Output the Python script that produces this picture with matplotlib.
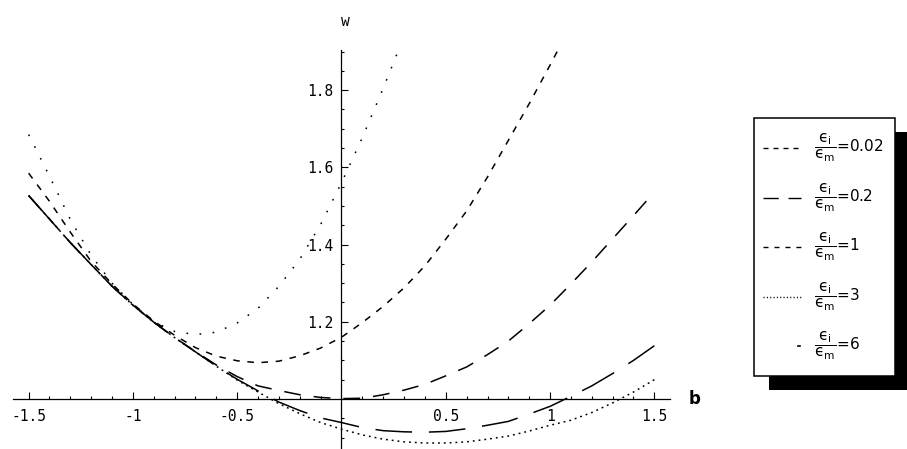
import matplotlib.pyplot as plt
from matplotlib.patches import Rectangle
from matplotlib.ticker import FixedLocator, MultipleLocator

# shared b samples for the three lower curves
b_low = [-1.5, -1.4, -1.3, -1.2, -1.1, -1.0, -0.9, -0.8, -0.7, -0.6, -0.5,
         -0.4, -0.3, -0.2, -0.1, 0.0, 0.1, 0.2, 0.3, 0.4, 0.5,
         0.6, 0.7, 0.8, 0.9, 1.0, 1.1, 1.2, 1.3, 1.4, 1.5]

# eps_i/eps_m = 0.2
w_02 = [1.527, 1.466, 1.405, 1.348, 1.292, 1.243, 1.199, 1.159, 1.122, 1.085, 1.051,
        1.021, 0.992, 0.970, 0.951, 0.939, 0.926, 0.918, 0.915, 0.914, 0.916,
        0.923, 0.932, 0.942, 0.961, 0.981, 1.007, 1.034, 1.066, 1.100, 1.138]
# eps_i/eps_m = 1
w_1 = [1.527, 1.466, 1.405, 1.348, 1.292, 1.243, 1.199, 1.159, 1.123, 1.088, 1.058,
       1.034, 1.022, 1.011, 1.004, 1.001, 1.002, 1.011, 1.023, 1.038, 1.060,
       1.083, 1.115, 1.150, 1.195, 1.243, 1.298, 1.355, 1.415, 1.475, 1.536]
# eps_i/eps_m = 3
w_3 = [1.527, 1.466, 1.405, 1.348, 1.292, 1.243, 1.199, 1.159, 1.122, 1.085, 1.049,
       1.018, 0.988, 0.962, 0.939, 0.922, 0.907, 0.896, 0.889, 0.886, 0.886,
       0.889, 0.896, 0.904, 0.917, 0.932, 0.945, 0.965, 0.990, 1.018, 1.050]

# eps_i/eps_m = 0.02 (leaves the top of the plot)
b_002 = [-1.5, -1.4, -1.3, -1.2, -1.1, -1.0, -0.9, -0.8, -0.7, -0.6, -0.5,
         -0.4, -0.3, -0.2, -0.1, 0.0, 0.1, 0.2, 0.3, 0.4, 0.5,
         0.6, 0.7, 0.8, 0.9, 1.0, 1.038]
w_002 = [1.585, 1.512, 1.432, 1.356, 1.298, 1.246, 1.202, 1.165, 1.133, 1.111, 1.099,
         1.094, 1.098, 1.112, 1.132, 1.160, 1.198, 1.240, 1.288, 1.345, 1.414,
         1.487, 1.575, 1.670, 1.765, 1.865, 1.904]

# eps_i/eps_m = 6
b_6 = [-1.5, -1.4, -1.3, -1.2, -1.1, -1.0, -0.9, -0.8, -0.7, -0.6, -0.5,
       -0.4, -0.3, -0.2, -0.1, 0.0, 0.1, 0.2, 0.27]
w_6 = [1.685, 1.577, 1.465, 1.372, 1.300, 1.245, 1.200, 1.175, 1.167, 1.173, 1.197,
       1.235, 1.292, 1.362, 1.452, 1.560, 1.677, 1.805, 1.899]

ratios = ["0.02", "0.2", "1", "3", "6"]
x_ticks = [-1.5, -1, -0.5, 0.5, 1, 1.5]
x_labels = ["-1.5", "-1", "-0.5", "0.5", "1", "1.5"]
y_ticks = [1.2, 1.4, 1.6, 1.8]
y_labels = ["1.2", "1.4", "1.6", "1.8"]

W, H = 907, 449
fig = plt.figure(figsize=(W / 100, H / 100), dpi=100)
ax = fig.add_axes([13 / W, 0, 657 / W, 399 / H])
ax.set_xlim(-1.575, 1.575)
ax.set_ylim(0.8705, 1.904)

styles = {
    "0.02": (0, (4.3, 5.0)),
    "0.2": (0, (24, 11)),
    "1": (0, (11, 8.5)),
    "3": (0, (1.2, 2.6)),
    "6": (0, (1.1, 7.5)),
}
curves = {
    "0.02": (b_002, w_002),
    "0.2": (b_low, w_02),
    "1": (b_low, w_1),
    "3": (b_low, w_3),
    "6": (b_6, w_6),
}
for r in ratios:
    bs, ws = curves[r]
    ax.plot(bs, ws, color="black", lw=1.1, linestyle=styles[r])

for side in ["top", "right"]:
    ax.spines[side].set_visible(False)
ax.spines["left"].set_position(("data", 0))
ax.spines["bottom"].set_position(("data", 1.0))
for side in ["left", "bottom"]:
    ax.spines[side].set_linewidth(0.9)

ax.xaxis.set_major_locator(FixedLocator(x_ticks))
ax.set_xticklabels(x_labels)
ax.xaxis.set_minor_locator(MultipleLocator(0.1))
ax.yaxis.set_major_locator(FixedLocator(y_ticks))
ax.set_yticklabels(y_labels)
ax.yaxis.set_minor_locator(MultipleLocator(0.05))
ax.tick_params(which="both", direction="in", width=0.8, colors="black")
ax.tick_params(which="major", length=5)
ax.tick_params(which="minor", length=2.5)
ax.tick_params(axis="x", pad=7)
ax.tick_params(axis="y", pad=6)
for lab in ax.get_xticklabels() + ax.get_yticklabels():
    lab.set_fontfamily("DejaVu Sans Mono")
    lab.set_fontsize(10.5)

ax.text(1.695, 1.0, "b", fontsize=12, fontweight="bold", ha="center", va="center",
        clip_on=False)
ax.text(0.017, 1.977, "w", fontsize=10.5, family="DejaVu Sans Mono", ha="center",
        va="center", clip_on=False)

# legend, drawn in pixel coordinates on an overlay
lax = fig.add_axes([0, 0, 1, 1])
lax.set_xlim(0, W)
lax.set_ylim(H, 0)
lax.axis("off")
box_l, box_t, box_r, box_b = 754, 118, 895, 376
lax.add_patch(Rectangle((box_l + 15, box_t + 14), box_r - box_l, box_b - box_t,
                        facecolor="black", edgecolor="none"))
lax.add_patch(Rectangle((box_l, box_t), box_r - box_l, box_b - box_t,
                        facecolor="white", edgecolor="black", lw=1.1))
leg_styles = {
    "0.02": (0, (3.6, 3.6)),
    "0.2": (0, (11, 7)),
    "1": (0, (3.6, 4.3)),
    "3": (0, (0.8, 1.6)),
}
frac = r"$\dfrac{\mathrm{ϵ}_\mathrm{i}}{\mathrm{ϵ}_\mathrm{m}}$"
for i, r in enumerate(ratios):
    y = 148 + 49.5 * i
    if r in leg_styles:
        lax.plot([763, 801], [y, y], color="black", lw=1.0, linestyle=leg_styles[r])
    else:
        lax.plot([798, 800], [y, y], color="black", lw=1.2)
    lax.text(814, y, frac + "=" + r, fontsize=11, ha="left", va="center")

fig.savefig("out.png", dpi=100)
